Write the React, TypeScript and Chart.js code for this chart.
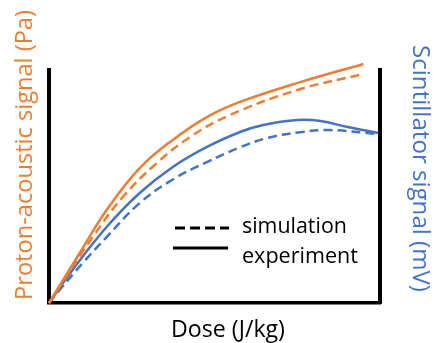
import React, { useEffect, useRef } from "react";
import { Chart, registerables } from "chart.js";

Chart.register(...registerables);

// Dose (arbitrary units 0..10 across the box)
const orangeSolidX = [0, 1.02, 1.74, 2.74, 3.74, 4.77, 5.77, 7.59, 9.5];
const orangeSolidY = [0, 2.36, 3.99, 5.79, 7.0, 7.98, 8.63, 9.48, 10.26];

const orangeDashX = [0, 1.32, 2.23, 3.26, 4.26, 5.47, 7.5, 9.5];
const orangeDashY = [0, 2.83, 4.55, 6.01, 7.12, 8.07, 9.14, 9.83];

const blueSolidX = [0, 0.71, 1.74, 2.74, 3.74, 4.77, 5.77, 6.47, 7.5, 8.2, 9.02, 9.95];
const blueSolidY = [0, 1.42, 3.26, 4.72, 5.84, 6.7, 7.34, 7.64, 7.85, 7.81, 7.55, 7.3];

const blueDashX = [0, 0.32, 1.02, 1.74, 2.74, 3.74, 4.77, 5.77, 6.59, 7.59, 8.5, 9.95];
const blueDashY = [0, 0.56, 1.72, 2.83, 4.29, 5.3, 6.05, 6.68, 7.08, 7.33, 7.42, 7.25];

const xTitle = "Dose (J/kg)";
const leftTitle = "Proton-acoustic signal (Pa)";
const rightTitle = "Scintillator signal (mV)";
const legendLabels = ["simulation", "experiment"];

const ORANGE = "#ED7D31";
const BLUE = "#4472C4";
const FONT = '"Open Sans", sans-serif';

const pts = (xs: number[], ys: number[]) => xs.map((x, i) => ({ x, y: ys[i] }));

const textPlugin = {
  id: "customText",
  afterDraw(chart: any) {
    const ctx: CanvasRenderingContext2D = chart.ctx;
    const fitSize = (text: string, width: number) => {
      ctx.font = `100px ${FONT}`;
      return (100 * width) / ctx.measureText(text).width;
    };
    ctx.save();
    ctx.textBaseline = "alphabetic";

    // left title
    ctx.save();
    ctx.fillStyle = ORANGE;
    ctx.font = `${fitSize(leftTitle, 290)}px ${FONT}`;
    ctx.textAlign = "center";
    ctx.translate(32, 155);
    ctx.rotate(-Math.PI / 2);
    ctx.fillText(leftTitle, 0, 0);
    ctx.restore();

    // right title
    ctx.save();
    ctx.fillStyle = BLUE;
    ctx.font = `${fitSize(rightTitle, 247)}px ${FONT}`;
    ctx.textAlign = "center";
    ctx.translate(413, 168.5);
    ctx.rotate(Math.PI / 2);
    ctx.fillText(rightTitle, 0, 0);
    ctx.restore();

    // x title
    ctx.save();
    ctx.fillStyle = "#000";
    ctx.font = `${fitSize(xTitle, 114)}px ${FONT}`;
    ctx.textAlign = "center";
    ctx.fillText(xTitle, 228, 337);
    ctx.restore();

    // legend
    ctx.save();
    ctx.strokeStyle = "#000";
    ctx.lineWidth = 3;
    ctx.setLineDash([10, 5]);
    ctx.beginPath();
    ctx.moveTo(175, 228);
    ctx.lineTo(229, 228);
    ctx.stroke();
    ctx.setLineDash([]);
    ctx.beginPath();
    ctx.moveTo(173, 248);
    ctx.lineTo(228, 248);
    ctx.stroke();
    ctx.fillStyle = "#000";
    ctx.textAlign = "left";
    ctx.font = `${fitSize(legendLabels[0], 105)}px ${FONT}`;
    ctx.fillText(legendLabels[0], 242, 233);
    ctx.font = `${fitSize(legendLabels[1], 116)}px ${FONT}`;
    ctx.fillText(legendLabels[1], 242, 263);
    ctx.restore();

    ctx.restore();
  },
};

export default function App() {
  const ref = useRef<HTMLCanvasElement | null>(null);
  useEffect(() => {
    if (!ref.current) return;
    const common = {
      borderWidth: 2.5,
      pointRadius: 0,
      tension: 0.4,
      clip: false as any,
      fill: false,
    };
    const chart = new Chart(ref.current, {
      type: "line",
      data: {
        datasets: [
          { ...common, label: "Proton-acoustic experiment", data: pts(orangeSolidX, orangeSolidY), borderColor: ORANGE, yAxisID: "y" },
          { ...common, label: "Proton-acoustic simulation", data: pts(orangeDashX, orangeDashY), borderColor: ORANGE, borderDash: [9, 5], yAxisID: "y" },
          { ...common, label: "Scintillator experiment", data: pts(blueSolidX, blueSolidY), borderColor: BLUE, yAxisID: "y1" },
          { ...common, label: "Scintillator simulation", data: pts(blueDashX, blueDashY), borderColor: BLUE, borderDash: [9, 5], yAxisID: "y1" },
        ],
      },
      options: {
        animation: false,
        responsive: false,
        layout: { padding: { left: 49, right: 56, top: 70, bottom: 40 } },
        plugins: { legend: { display: false }, tooltip: { enabled: false } },
        scales: {
          x: {
            type: "linear",
            min: 0,
            max: 10,
            grid: { display: false, drawTicks: false },
            ticks: { display: false },
            border: { display: true, color: "#000", width: 3.5 },
          },
          y: {
            type: "linear",
            position: "left",
            min: 0,
            max: 10,
            grid: { display: false, drawTicks: false },
            ticks: { display: false },
            border: { display: true, color: "#000", width: 4 },
          },
          y1: {
            type: "linear",
            position: "right",
            min: 0,
            max: 10,
            grid: { display: false, drawTicks: false },
            ticks: { display: false },
            border: { display: true, color: "#000", width: 4 },
          },
        },
      },
      plugins: [textPlugin],
    });
    return () => chart.destroy();
  }, []);
  return (
    <div style={{ position: "absolute", left: 0, top: 0, width: 436, height: 343, background: "#fff" }}>
      <canvas ref={ref} width={436} height={343} />
    </div>
  );
}
